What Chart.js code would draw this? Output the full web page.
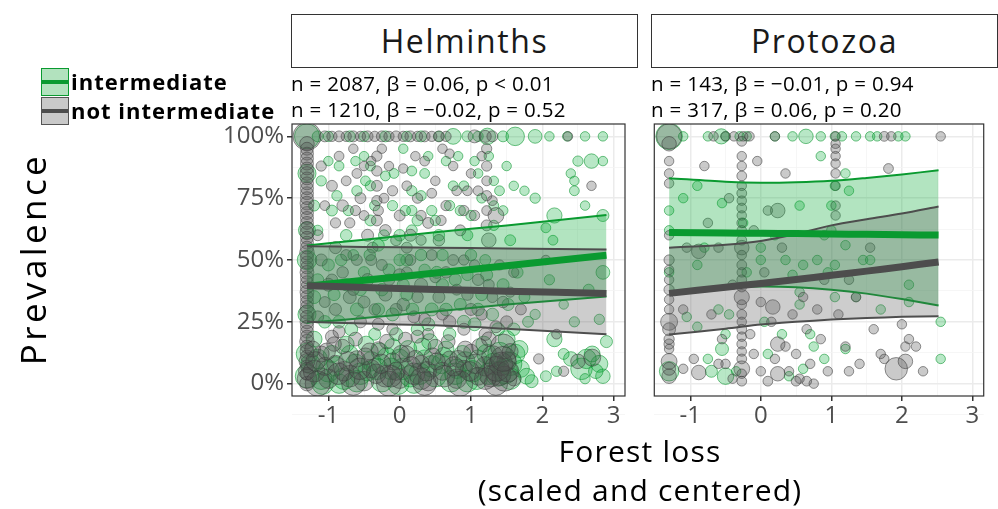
<!DOCTYPE html>
<html>
<head>
<meta charset="utf-8">
<script src="https://cdn.jsdelivr.net/npm/chart.js@4/dist/chart.umd.min.js"></script>
<style>
  body { margin: 0; background: #fff; font-family: 'Open Sans', sans-serif; }
  #wrap { position: relative; width: 998px; height: 509px; overflow: hidden; }
  canvas { position: absolute; top: 0; }
  .strip { position: absolute; top: 14px; height: 52px; border: 1px solid #333; background: #fff;
           text-align: center; line-height: 52px; font-size: 32px; color: #1a1a1a; letter-spacing: 1.6px; }
  .note { position: absolute; top: 70px; font-size: 20.5px; line-height: 26px; color: #000; white-space: nowrap; letter-spacing: 0.3px; }
  .key { position: absolute; left: 41px; width: 26px; height: 26px; }
  .key i { position: absolute; left: 0; right: 0; top: 11px; height: 4px; }
  .lab { position: absolute; left: 71px; font-size: 22px; font-weight: bold; line-height: 28px; color: #000; letter-spacing: 1px; }
  #ytitle { position: absolute; left: -117px; top: 239px; width: 300px; height: 40px; line-height: 40px;
            text-align: center; font-size: 35px; letter-spacing: 3.4px; transform: rotate(-90deg); }
  #xtitle { position: absolute; left: 340px; top: 431px; width: 600px; text-align: center;
            font-size: 30px; line-height: 39px; letter-spacing: 1.2px; }
</style>
</head>
<body>
<div id="wrap">
  <canvas id="helm" width="640" height="509" style="left:0"></canvas>
  <canvas id="proto" width="358" height="509" style="left:640px"></canvas>

  <div class="strip" style="left:291px;width:345px">Helminths</div>
  <div class="strip" style="left:651px;width:345px">Protozoa</div>
  <div class="note" style="left:291px">n = 2087, β = 0.06, p &lt; 0.01<br>n = 1210, β = −0.02, p = 0.52</div>
  <div class="note" style="left:651px">n = 143, β = −0.01, p = 0.94<br>n = 317, β = 0.06, p = 0.20</div>

  <div class="key" style="top:68px;background:rgba(0,160,40,0.3);border:1.5px solid #0a9a30"><i style="background:#0a9a30"></i></div>
  <div class="key" style="top:97px;background:#c9c9c9;border:1.5px solid #555"><i style="background:#4d4d4d"></i></div>
  <div class="lab" style="top:67px">intermediate</div>
  <div class="lab" style="top:96px">not intermediate</div>

  <div id="ytitle">Prevalence</div>
  <div id="xtitle">Forest loss<br>(scaled and centered)</div>
</div>
<script>
// axis ticks
var xTicks = [-1, 0, 1, 2, 3];
var yTicks = [0, 0.25, 0.5, 0.75, 1];

// fitted lines + confidence bands, Helminths
var helmFitX   = [-1.3, -0.5, 0.5, 1.5, 2.9];
var helmIntFit = [0.394, 0.418, 0.447, 0.477, 0.519];
var helmIntHi  = [0.559, 0.582, 0.612, 0.640, 0.682];
var helmIntLo  = [0.247, 0.265, 0.292, 0.320, 0.352];
var helmNotFit = [0.396, 0.389, 0.381, 0.374, 0.365];
var helmNotHi  = [0.556, 0.553, 0.550, 0.547, 0.542];
var helmNotLo  = [0.250, 0.243, 0.236, 0.222, 0.200];

// fitted lines + confidence bands, Protozoa
var protoFitX   = [-1.3, -0.5, 0, 0.5, 1, 1.5, 2, 2.52];
var protoIntFit = [0.611, 0.609, 0.608, 0.607, 0.605, 0.604, 0.602, 0.601];
var protoIntHi  = [0.831, 0.816, 0.812, 0.814, 0.820, 0.832, 0.846, 0.863];
var protoIntLo  = [0.372, 0.388, 0.393, 0.390, 0.380, 0.364, 0.342, 0.316];
var protoNotFit = [0.365, 0.390, 0.405, 0.421, 0.438, 0.455, 0.473, 0.492];
var protoNotHi  = [0.550, 0.562, 0.577, 0.605, 0.640, 0.665, 0.688, 0.716];
var protoNotLo  = [0.199, 0.222, 0.239, 0.250, 0.259, 0.265, 0.270, 0.273];

// studies: [forest loss, prevalence, sample size]
var helmIntPts = [
  [-1.3,1,300],[-1.3,0.85,120],[-1.3,0.62,100],[-1.3,0.5,150],[-1.3,0.28,120],[-1.3,0.12,200],
  [-1.15,1,20],[-1,1,15],[-0.7,1,20],[-0.5,1,15],[-0.2,1,20],[0.1,1,15],[0.3,1,20],[0.55,1,15],
  [0.75,1,80],[0.95,1,20],[1.1,1,15],[1.23,1,90],[1.45,1,20],[1.62,1,130],[1.9,1,50],[2.1,1,10],
  [2.35,1,10],[2.6,1,10],[2.85,1,10],
  [-1.1,0.82,15],[-0.95,0.7,20],[-0.85,0.88,12],[-0.75,0.6,25],[-0.6,0.78,15],[-0.5,0.92,10],
  [-0.41,0.66,20],[-0.41,0.8,15],[-0.41,0.88,12],[-0.3,0.56,30],[-0.2,0.84,12],[-0.1,0.72,15],
  [0,0.6,25],[0.05,0.95,10],[0.17,0.78,15],[0.17,0.7,15],[0.17,0.62,20],[0.17,0.86,12],[0.25,0.66,20],
  [0.35,0.85,12],[0.45,0.7,15],[0.55,0.6,25],[0.65,0.9,10],[0.75,0.8,12],[0.85,0.7,15],[0.95,0.6,20],
  [1.05,0.9,10],[1.15,0.75,12],[1.32,0.82,10],[1.32,0.72,12],[1.32,0.64,15],[1.45,0.7,12],[1.55,0.58,20],
  [-1.2,0.72,20],[-0.65,0.52,20],[0.1,0.5,30],[0.6,0.52,25],[1.2,0.5,20],
  [-1.15,0.62,15],[-1,0.9,10],[-0.88,0.76,15],[-0.72,0.7,15],[-0.62,0.9,10],[-0.48,0.82,12],
  [-0.35,0.72,15],[-0.22,0.6,20],[-0.08,0.85,12],[0.08,0.7,15],[0.3,0.76,15],[0.4,0.92,10],[0.5,0.66,15],
  [0.7,0.72,15],[0.82,0.92,10],[0.9,0.8,12],[1,0.68,15],[1.1,0.85,10],[1.25,0.92,10],[1.4,0.78,12],
  [1.5,0.88,10],
  [1.6,0.8,10],[1.75,0.78,10],[1.9,0.75,15],[2.05,0.63,12],[2.15,0.58,12],[2.4,0.85,10],[2.45,0.78,12],
  [2.45,0.82,10],[2.5,0.9,15],[2.6,0.72,10],[2.69,0.9,60],[2.85,0.9,10],[2.17,0.68,70],[2.85,0.68,30],
  [-1.2,0.35,40],[-1,0.48,30],[-0.85,0.25,35],[-0.75,0.4,30],[-0.6,0.3,40],[-0.5,0.45,25],[-0.35,0.2,30],
  [-0.25,0.38,35],[-0.1,0.28,40],[0,0.5,25],[0.1,0.36,30],[0.25,0.22,35],[0.35,0.46,25],[0.45,0.3,40],
  [0.6,0.4,30],[0.7,0.2,35],[0.85,0.32,30],[0.95,0.44,25],[1.05,0.24,40],[1.15,0.36,30],[1.3,0.28,35],
  [1.45,0.4,30],[1.6,0.22,35],[1.75,0.35,20],[1.9,0.28,15],[2.1,0.42,15],[2.3,0.32,10],[2.45,0.25,15],
  [2.65,0.38,20],[2.85,0.45,50],[2.8,0.26,15],[2.17,0.18,70],
  [-1.15,0.42,30],[-1.05,0.25,35],[-0.92,0.36,30],[-0.82,0.5,25],[-0.68,0.22,40],[-0.55,0.38,30],
  [-0.42,0.52,25],[-0.3,0.3,35],[-0.15,0.46,30],[-0.05,0.2,40],[0.05,0.4,30],[0.18,0.3,35],[0.3,0.52,25],
  [0.4,0.24,40],[0.52,0.45,30],[0.65,0.3,35],[0.78,0.42,30],[0.9,0.25,40],[1,0.52,25],[1.1,0.3,35],
  [1.22,0.44,30],[1.38,0.22,40],[1.52,0.32,30],[1.65,0.45,25],[1.8,0.25,20],
  [-1.3,0.03,250],[-1.15,0.1,150],[-1,0.05,200],[-0.85,0,150],[-0.7,0.12,100],[-0.55,0.04,200],
  [-0.4,0.09,150],[-0.25,0.01,200],[-0.1,0.15,80],[0.05,0.06,200],[0.2,0,150],[0.35,0.1,120],
  [0.5,0.03,200],[0.65,0.14,80],[0.8,0.06,150],[0.95,0.01,200],[1.1,0.1,120],[1.25,0.04,200],
  [1.4,0.12,250],[1.55,0.02,200],[1.7,0.06,100],[1.85,0.01,40],[2.05,0.03,20],[2.4,0.1,60],
  [2.55,0.06,200],[2.7,0.12,80],[2.85,0.03,60],[2.9,0.17,30],[2.6,0.02,15],[2.3,0.12,20],[2.2,0.05,15],
  [2.8,0.08,100],
  [-1.2,0.18,80],[-1.08,0,200],[-0.95,0.12,100],[-0.78,0.02,200],[-0.62,0.08,150],[-0.47,0.16,80],
  [-0.32,0.06,200],[-0.18,0.11,120],[-0.02,0,200],[0.12,0.14,100],[0.28,0.04,200],[0.42,0.17,80],
  [0.58,0.08,150],[0.72,0.01,200],[0.88,0.12,100],[1.02,0.05,200],[1.18,0.16,80],[1.32,0.08,200],
  [1.48,0.05,300],[1.62,0.12,150],[1.78,0.03,80],[1.5,0.18,100],[2.62,0.1,150],[2.75,0.05,60],
  [-1.25,0.08,150],[-1.1,0.02,200],[-0.9,0.07,150],[-0.75,0.16,80],[-0.6,0.01,200],[-0.45,0.05,150],
  [-0.28,0.13,100],[-0.12,0.06,200],[0,0.1,150],[0.15,0.03,200],[0.32,0.15,100],[0.45,0.07,200],
  [0.62,0.11,120],[0.78,0.04,200],[0.92,0.09,150],[1.08,0.02,200],[1.22,0.12,150],[1.38,0.04,300],
  [1.55,0.08,250],[1.68,0.14,100]
];
var helmNotPts = [
  [-1.3,1,400],[-1.3,0.97,60],[-1.3,0.93,40],[-1.3,0.89,40],[-1.3,0.85,50],[-1.3,0.81,40],[-1.3,0.77,40],
  [-1.3,0.73,50],[-1.3,0.69,40],[-1.3,0.65,40],[-1.3,0.61,50],[-1.3,0.57,40],[-1.3,0.53,60],[-1.3,0.49,40],
  [-1.3,0.45,50],[-1.3,0.41,40],[-1.3,0.37,50],[-1.3,0.33,40],[-1.3,0.29,60],[-1.3,0.25,50],[-1.3,0.21,40],
  [-1.3,0.17,60],[-1.3,0.13,50],[-1.3,0.09,80],[-1.3,0.05,100],[-1.3,0.02,150],[-1.3,0,60],
  [-1.3,0.95,40],[-1.3,0.91,40],[-1.3,0.87,40],[-1.3,0.83,40],[-1.3,0.79,40],[-1.3,0.75,40],[-1.3,0.71,40],
  [-1.3,0.67,40],[-1.3,0.63,40],[-1.3,0.59,40],[-1.3,0.55,40],[-1.3,0.51,40],[-1.3,0.47,40],[-1.3,0.43,40],
  [-1.3,0.39,40],[-1.3,0.35,40],[-1.3,0.31,40],[-1.3,0.27,40],[-1.3,0.23,40],[-1.3,0.19,40],[-1.3,0.15,40],
  [-1.3,0.11,40],[-1.3,0.07,40],[-1.3,0.04,40],
  [-1.05,1,20],[-0.95,1,15],[-0.85,1,20],[-0.75,1,15],[-0.65,1,20],[-0.55,1,15],[-0.45,1,20],[-0.35,1,15],
  [-0.25,1,20],[-0.15,1,15],[-0.05,1,20],[0.05,1,15],[0.15,1,20],[0.25,1,15],[0.35,1,20],[0.45,1,15],
  [0.55,1,20],[0.65,1,15],[1.05,1,40],[1.2,1,30],[1.3,1,20],[2.36,1,10],
  [-0.32,0.92,15],[-0.32,0.86,15],[-0.32,0.8,20],[-0.32,0.74,15],[-0.32,0.66,20],[1.22,0.95,15],
  [1.22,0.88,15],[1.22,0.82,12],[1.22,0.76,15],[1.22,0.7,12],[1.22,0.64,20],[1.25,0.58,60],
  [-1.1,0.88,15],[-0.95,0.8,20],[-0.85,0.92,12],[-0.8,0.72,25],[-0.7,0.65,15],[-0.6,0.85,12],[-0.55,0.75,20],
  [-0.45,0.6,30],[-0.4,0.9,10],[-0.3,0.7,15],[-0.2,0.62,25],[-0.1,0.78,15],[0,0.68,20],[0.05,0.87,10],
  [0.15,0.6,30],[0.25,0.75,15],[0.35,0.9,12],[0.4,0.65,20],[0.5,0.82,10],[0.55,0.58,25],[0.65,0.72,15],
  [0.75,0.88,10],[0.85,0.62,20],[0.95,0.78,12],[1.05,0.68,15],[1.15,0.92,10],[1.3,0.74,12],[-1.15,0.6,20],
  [-0.9,0.55,30],[-0.65,0.95,10],[-0.25,0.95,10],[0.1,0.55,20],[0.3,0.58,15],[0.6,0.95,10],[1,0.85,10],
  [-0.5,0.68,12],[-0.15,0.88,10],[1.35,0.68,80],
  [-1.05,0.72,12],[-0.9,0.65,15],[-0.75,0.82,12],[-0.62,0.7,15],[-0.5,0.88,10],[-0.38,0.55,20],
  [-0.22,0.75,12],[-0.05,0.58,20],[0.1,0.8,12],[0.22,0.92,10],[0.3,0.68,15],[0.45,0.77,12],[0.58,0.66,15],
  [0.7,0.93,10],[0.8,0.78,12],[0.9,0.7,15],[1.1,0.78,12],
  [-1.1,0.5,30],[-1,0.4,40],[-0.9,0.3,30],[-0.8,0.45,25],[-0.7,0.35,40],[-0.6,0.5,20],[-0.55,0.25,30],
  [-0.45,0.42,35],[-0.35,0.3,25],[-0.25,0.48,20],[-0.2,0.36,40],[-0.1,0.22,25],[0,0.44,30],[0.05,0.32,35],
  [0.15,0.5,20],[0.2,0.27,30],[0.3,0.4,40],[0.4,0.2,25],[0.45,0.52,20],[0.55,0.35,30],[0.65,0.45,25],
  [0.7,0.25,35],[0.8,0.38,20],[0.9,0.5,15],[1,0.3,30],[1.1,0.42,25],[1.2,0.2,35],[1.3,0.35,20],
  [1.4,0.48,15],[1.5,0.25,30],
  [-1.15,0.27,30],[-1.05,0.33,20],[-0.95,0.42,25],[-0.85,0.21,30],[-0.75,0.52,20],[-0.65,0.38,25],
  [-0.5,0.33,30],[-0.4,0.5,20],[-0.3,0.24,30],[-0.15,0.42,25],[-0.05,0.3,30],[0.1,0.45,20],[0.25,0.35,25],
  [0.35,0.26,30],[0.5,0.43,20],[0.6,0.28,25],[0.75,0.5,20],[0.9,0.22,30],[0.95,0.36,25],[1.05,0.48,15],
  [1.15,0.28,25],[1.25,0.4,20],[1.35,0.23,30],[1.45,0.33,25],[1.55,0.37,15],
  [-1.2,0.05,200],[-1.1,0.12,80],[-1,0.02,150],[-0.9,0.08,100],[-0.8,0.15,60],[-0.7,0.03,200],
  [-0.6,0.1,90],[-0.5,0.01,150],[-0.4,0.06,120],[-0.3,0.14,60],[-0.2,0.03,200],[-0.1,0.09,100],
  [0,0.02,150],[0.1,0.12,80],[0.2,0.04,200],[0.3,0.08,100],[0.4,0.01,150],[0.5,0.15,60],[0.6,0.05,120],
  [0.7,0.1,80],[0.8,0.02,150],[0.9,0.06,100],[1,0.13,60],[1.1,0.03,120],[1.2,0.07,150],[1.3,0.11,200],
  [1.4,0.04,250],[1.5,0.09,150],[1.6,0.02,60],[1.25,0.18,60],[-0.95,0.19,40],[0.25,0.19,40],[1.45,0.15,300],
  [-1.15,0,300],[-0.65,0,250],[-0.15,0,300],[0.35,0,250],[0.85,0,300],[1.35,0,250],
  [-1.22,0.14,80],[-1.05,0.07,120],[-0.92,0.16,60],[-0.78,0.05,150],[-0.62,0.18,50],[-0.48,0.11,100],
  [-0.33,0.04,150],[-0.18,0.17,60],[-0.05,0.05,120],[0.08,0.18,50],[0.22,0.1,100],[0.38,0.05,150],
  [0.52,0.09,100],[0.68,0.17,50],[0.82,0.1,100],[0.98,0.05,150],[1.12,0.15,80],[1.28,0.03,200],
  [1.42,0.08,250],[1.55,0.13,80],[1.47,0.02,300],
  [-1.18,0.09,150],[-1.02,0.13,100],[-0.86,0.04,200],[-0.72,0.09,150],[-0.56,0.06,200],[-0.42,0.13,100],
  [-0.26,0.08,150],[-0.12,0.03,200],[0.02,0.12,100],[0.16,0.07,150],[0.3,0.02,200],[0.46,0.11,100],
  [0.62,0.03,200],[0.76,0.07,150],[0.92,0.14,80],[1.06,0.08,150],[1.2,0.02,200],[1.36,0.06,300],
  [1.52,0.05,200],[1.45,0.1,300],
  [1.7,0.3,20],[1.95,0.1,15],[2.2,0.2,12],[1.6,0.45,15],[2.05,0.5,10],[2.69,0.8,10],[2.5,0.09,60],
  [2.7,0.105,100],[2.3,0.05,15]
];
var protoIntPts = [
  [-1.3,1,350],[-1.1,1,10],[-0.75,1,10],[-0.56,1,70],[-0.5,1,10],[-0.3,1,10],[-0.2,1,10],[0.2,1,10],
  [0.45,1,10],[0.64,1,60],[0.85,1,10],[1.05,1,10],[1.15,1,10],[1.35,1,10],[1.55,1,10],[1.65,1,10],
  [1.95,1,10],[2.05,1,10],
  [-1.3,0.7,10],[-1.3,0.62,10],[-1.3,0.45,10],[-1.3,0.05,150],[-1.1,0.75,10],[-0.9,0.48,10],[-0.8,0.55,10],
  [-0.6,0.3,10],[-0.5,0.2,10],[-0.55,0.14,40],[-0.5,0.03,90],[-0.35,0.05,10],[-0.2,0.45,10],[0,0.55,10],
  [0,0.5,10],[0.1,0.12,10],[0.2,0.6,10],[0.35,0.5,10],[0.45,0.44,10],[0.55,0.72,10],[0.6,0.48,10],
  [0.7,0.2,10],[0.75,0.15,10],[0.8,0.5,10],[0.9,0.1,10],[1,0.62,10],[1.05,0.48,10],[1.2,0.85,10],
  [1.25,0.78,10],[0.9,0.6,10],[1.45,0.5,10],[1.7,0.3,10],[2.1,0.4,10],[2.1,0.33,10],[2.55,0.25,10],
  [2.55,0.1,10],[1.2,0.14,10],[1.55,0.5,10],[0.4,0.03,10],[0.6,0.06,10],[-0.75,0.1,10],[-0.9,0.23,10],
  [-1.05,0.27,10],[0.05,0.25,10],[0.3,0.2,10],[0.55,0.37,10],[0.95,0.45,10],[1.35,0.35,10],[0.85,0.92,10],
  [1.05,0.8,10],[1,0.72,10],[-0.9,0.8,10],[-0.55,0.73,10],[-0.25,0.65,10],[-0.45,0.28,10],[0.55,0.32,10],
  [-0.7,0.05,30],[1.05,0.35,10],[1.2,0.56,10]
];
var protoNotPts = [
  [-1.3,1,300],[-1.3,0.97,60],[-1.3,0.9,10],[-1.3,0.85,10],[-1.3,0.81,10],[-1.3,0.6,10],[-1.3,0.5,15],
  [-1.3,0.46,10],[-1.3,0.42,10],[-1.3,0.38,15],[-1.3,0.34,10],[-1.3,0.3,10],[-1.3,0.25,100],[-1.3,0.22,40],
  [-1.3,0.18,15],[-1.3,0.16,15],[-1.3,0.14,10],[-1.3,0.09,80],[-1.3,0.06,40],[-1.3,0.03,60],
  [-0.27,0.98,12],[-0.27,0.92,10],[-0.27,0.88,10],[-0.27,0.84,12],[-0.27,0.8,10],[-0.27,0.77,12],
  [-0.27,0.74,10],[-0.27,0.71,12],[-0.27,0.68,10],[-0.27,0.65,12],[-0.27,0.62,10],[-0.27,0.58,12],
  [-0.27,0.55,60],[-0.27,0.52,10],[-0.27,0.48,12],[-0.27,0.45,10],[-0.27,0.42,12],[-0.27,0.39,10],
  [-0.27,0.35,70],[-0.27,0.32,10],[-0.27,0.28,12],[-0.27,0.25,10],[-0.27,0.22,12],[-0.27,0.19,10],
  [-0.27,0.16,12],[-0.27,0.13,10],[-0.27,0.1,12],[-0.27,0.06,80],[-0.27,0.04,10],[-0.27,0.01,12],
  [1.06,1,10],[1.06,0.97,10],[1.06,0.95,10],[1.06,0.92,10],[1.06,0.89,10],[1.06,0.85,10],[1.06,0.8,10],
  [1.06,0.72,10],[1.06,0.68,10],
  [-0.67,1,10],[-0.5,1,10],[-0.38,1,10],[-0.25,1,10],[-0.16,1,10],[0.2,1,10],[1.75,1,12],[1.85,1,10],
  [2.55,1,10],
  [-1.1,0.06,10],[-1.1,0.3,10],[-1.05,0.55,10],[-0.95,0.1,10],[-0.88,0.045,60],[-0.88,0.535,60],
  [-0.8,0.88,10],[-0.75,0.65,10],[-0.7,0.28,10],[-0.6,0.55,10],[-0.55,0.18,10],[-0.5,0.08,10],
  [-0.45,0.75,10],[-0.4,0.4,10],[-0.4,0.02,10],[-0.15,0.2,10],[-0.1,0.62,10],[-0.1,0.12,10],[0,0.33,10],
  [0.05,0.45,10],[0,0.05,10],[0.1,0.7,10],[0.15,0.25,10],[0.17,0.31,60],[0.2,0.1,10],[0.24,0.7,60],
  [0.24,0.16,60],[0.24,0.04,60],[0.3,0.55,10],[0.35,0.15,10],[0.4,0.05,10],[0.45,0.28,10],[0.5,0.12,10],
  [0.55,0.02,10],[0.6,0.35,10],[0.65,0.22,10],[0.7,0.08,10],[0.75,0,10],[0.8,0.3,10],[0.85,0.18,10],
  [0.9,0.42,10],[0.95,0.05,10],[1.1,0.28,10],[1.2,0.15,10],[1.25,0.05,10],[1.35,0.35,10],[1.4,0.08,10],
  [1.55,0.55,10],[1.6,0.22,10],[1.7,0.12,10],[1.92,0.06,225],[2.05,0.09,60],[2,0.24,10],[2.1,0.18,10],
  [2.2,0.15,10],[2.3,0.05,10],[1.81,0.87,12],[0.1,0.01,12],[0.5,0.01,12],[0.65,0.01,12],[-0.05,0.9,10],
  [0.35,0.85,10],[1.25,0.42,10],[-0.6,0.08,10],[1.75,0.1,10],[2.05,0.15,10]
];

var green = '#0a9a30', grey = '#4d4d4d';
var tickFont = { family: "'Open Sans', sans-serif", size: 24 };

function rad(n) { return 3 + Math.sqrt(n) * 0.55; }
function pts(arr) { return arr.map(function (d) { return { x: d[0], y: d[1], r: rad(d[2]) }; }); }
function curve(xs, ys) { return xs.map(function (x, i) { return { x: x, y: ys[i] }; }); }
function withMinor(list) {
  var out = [];
  list.forEach(function (v, i) { if (i == 0) out.push(v - (list[1] - list[0]) / 2); out.push(v); if (i < list.length - 1) out.push((v + list[i + 1]) / 2); });
  return out;
}
function isMajor(list, v) { return list.some(function (t) { return Math.abs(t - v) < 1e-6; }); }

var panelBox = {
  id: 'panelBox',
  afterDraw: function (chart) {
    var a = chart.chartArea, c = chart.ctx;
    c.save(); c.strokeStyle = '#333'; c.lineWidth = 1.2;
    c.strokeRect(a.left, a.top, a.right - a.left, a.bottom - a.top);
    c.restore();
  }
};

function line(data, color, width, order, fill, bg) {
  return { type: 'line', data: data, borderColor: color, borderWidth: width, pointRadius: 0,
           tension: 0.3, order: order, fill: fill || false, backgroundColor: bg || 'transparent' };
}

function makePanel(id, fitX, f, intPts, notPts, showY, padRight, yWidth) {
  var gridX = withMinor(xTicks), gridY = withMinor(yTicks);
  return new Chart(document.getElementById(id), {
    type: 'bubble',
    data: {
      datasets: [
        line(curve(fitX, f.notFit), grey, 7, 0),
        line(curve(fitX, f.intFit), green, 7, 1),
        line(curve(fitX, f.notHi), grey, 2, 2, '+1', 'rgba(90,90,90,0.3)'),
        line(curve(fitX, f.notLo), grey, 2, 2),
        line(curve(fitX, f.intHi), green, 2, 4, '+1', 'rgba(0,165,45,0.3)'),
        line(curve(fitX, f.intLo), green, 2, 4),
        { data: pts(notPts), backgroundColor: 'rgba(80,80,80,0.3)', borderColor: 'rgba(60,60,60,0.55)', borderWidth: 1, order: 6 },
        { data: pts(intPts), backgroundColor: 'rgba(0,170,50,0.28)', borderColor: 'rgba(0,145,40,0.55)', borderWidth: 1, order: 7 }
      ]
    },
    options: {
      responsive: false,
      animation: false,
      events: [],
      layout: { padding: { top: 124, right: padRight, left: 0, bottom: 0 } },
      plugins: { legend: { display: false }, tooltip: { enabled: false } },
      scales: {
        x: {
          type: 'linear', min: -1.51, max: 3.16,
          afterBuildTicks: function (s) { s.ticks = gridX.map(function (v) { return { value: v }; }); },
          afterFit: function (s) { s.height = 113; },
          ticks: { autoSkip: false, maxRotation: 0, padding: 1, color: grey, font: tickFont,
                   callback: function (v) { return isMajor(xTicks, v) ? String(v) : ''; } },
          grid: { color: function (c) { return isMajor(xTicks, c.tick.value) ? '#ebebeb' : '#f4f4f4'; },
                  lineWidth: function (c) { return isMajor(xTicks, c.tick.value) ? 1.5 : 0.8; },
                  tickColor: function (c) { return isMajor(xTicks, c.tick.value) ? '#333' : 'transparent'; },
                  tickLength: 5 },
          border: { display: false }
        },
        y: {
          min: -0.05, max: 1.05,
          afterBuildTicks: function (s) { s.ticks = gridY.map(function (v) { return { value: v }; }); },
          afterFit: function (s) { s.width = yWidth; },
          ticks: { display: showY, autoSkip: false, padding: 3, color: grey, font: tickFont,
                   callback: function (v) { return isMajor(yTicks, v) ? Math.round(v * 100) + '%' : ''; } },
          grid: { color: function (c) { return isMajor(yTicks, c.tick.value) ? '#ebebeb' : '#f4f4f4'; },
                  lineWidth: function (c) { return isMajor(yTicks, c.tick.value) ? 1.5 : 0.8; },
                  tickColor: function (c) { return isMajor(yTicks, c.tick.value) ? '#333' : 'transparent'; },
                  drawTicks: showY, tickLength: 5 },
          border: { display: false }
        }
      }
    },
    plugins: [panelBox]
  });
}

makePanel('helm', helmFitX,
  { intFit: helmIntFit, intHi: helmIntHi, intLo: helmIntLo, notFit: helmNotFit, notHi: helmNotHi, notLo: helmNotLo },
  helmIntPts, helmNotPts, true, 2, 292);
makePanel('proto', protoFitX,
  { intFit: protoIntFit, intHi: protoIntHi, intLo: protoIntLo, notFit: protoNotFit, notHi: protoNotHi, notLo: protoNotLo },
  protoIntPts, protoNotPts, false, 1, 12);
</script>
</body>
</html>
